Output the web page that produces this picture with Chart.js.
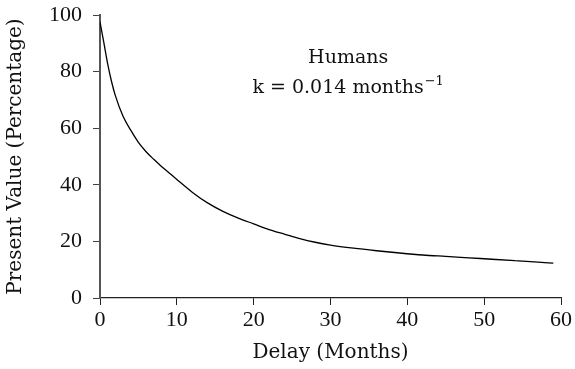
<!DOCTYPE html>
<html>
<head>
<meta charset="utf-8">
<script src="https://cdn.jsdelivr.net/npm/chart.js@4"></script>
<style>
  html, body { margin: 0; padding: 0; background: #fff; }
</style>
</head>
<body>
<canvas id="chart" width="575" height="369"></canvas>
<script>
// delay in months and present value (%) along the discounting curve
const months = [0, 0.5, 1, 1.5, 2, 3, 4, 5, 6, 7, 8, 9, 10, 12, 14, 16, 18, 20, 22, 24, 26, 28, 30, 33, 36, 39, 42, 45, 48, 51, 54, 57, 59];
const presentValue = [97.6, 90.2, 82.7, 76.5, 71.5, 64.2, 59.3, 55.0, 51.7, 49.0, 46.5, 44.2, 41.9, 37.4, 33.6, 30.6, 28.2, 26.2, 24.2, 22.6, 21.0, 19.7, 18.7, 17.6, 16.7, 15.9, 15.2, 14.7, 14.2, 13.7, 13.2, 12.7, 12.3];
const xTicks = [0, 10, 20, 30, 40, 50, 60];
const yTicks = [0, 20, 40, 60, 80, 100];
const noteTitle = 'Humans';
const noteRate = 'k = 0.014 months';
const noteExp = '\u22121';

const tickFont = '"Liberation Serif", serif';
const textFont = '"DejaVu Serif", serif';

const points = months.map((m, i) => ({ x: m, y: presentValue[i] }));

// species label and rate constant, anchored in data units
const notePlugin = {
  id: 'note',
  afterDraw(chart) {
    const { ctx, scales } = chart;
    const cx = scales.x.getPixelForValue(32.3);
    const y1 = scales.y.getPixelForValue(83);
    const y2 = scales.y.getPixelForValue(72.5);
    ctx.save();
    ctx.fillStyle = '#111';
    ctx.textBaseline = 'alphabetic';
    ctx.font = '19px ' + textFont;
    ctx.textAlign = 'center';
    ctx.fillText(noteTitle, cx, y1);
    // second line: main text plus raised exponent
    ctx.textAlign = 'left';
    const wMain = ctx.measureText(noteRate).width;
    ctx.font = '13px ' + textFont;
    const wExp = ctx.measureText(noteExp).width;
    const x0 = cx - (wMain + wExp + 1) / 2;
    ctx.font = '19px ' + textFont;
    ctx.fillText(noteRate, x0, y2);
    ctx.font = '13px ' + textFont;
    ctx.fillText(noteExp, x0 + wMain + 1, y2 - 8);
    ctx.restore();
  }
};

new Chart(document.getElementById('chart'), {
  type: 'scatter',
  data: {
    datasets: [{
      data: points,
      showLine: true,
      borderColor: '#000',
      borderWidth: 1.3,
      pointRadius: 0,
      cubicInterpolationMode: 'monotone'
    }]
  },
  options: {
    responsive: false,
    animation: false,
    devicePixelRatio: 1,
    layout: { padding: { left: 0, top: 15, right: 14, bottom: 0 } },
    plugins: { legend: { display: false }, tooltip: { enabled: false } },
    scales: {
      x: {
        type: 'linear',
        min: 0,
        max: 60,
        afterBuildTicks: s => { s.ticks = xTicks.map(v => ({ value: v })); },
        afterFit: s => { s.height = 71; s.paddingLeft = 0; s.paddingRight = 0; },
        border: { color: '#222', width: 1.2 },
        grid: { drawOnChartArea: false, tickLength: 7, color: '#222' },
        ticks: { color: '#111', font: { family: tickFont, size: 22 }, padding: 2, maxRotation: 0 },
        title: { display: true, text: 'Delay (Months)', color: '#111', font: { family: textFont, size: 20 }, padding: { top: 2 } }
      },
      y: {
        min: 0,
        max: 100,
        afterBuildTicks: s => { s.ticks = yTicks.map(v => ({ value: v })); },
        afterFit: s => { s.width = 100; s.paddingTop = 0; s.paddingBottom = 0; },
        border: { color: '#555', width: 2 },
        grid: { drawOnChartArea: false, tickLength: 7, color: '#444' },
        ticks: { color: '#111', font: { family: tickFont, size: 22 }, padding: 11 },
        title: { display: true, text: 'Present Value (Percentage)', color: '#111', font: { family: textFont, size: 20 }, padding: { bottom: 0 } }
      }
    }
  },
  plugins: [notePlugin]
});
</script>
</body>
</html>
